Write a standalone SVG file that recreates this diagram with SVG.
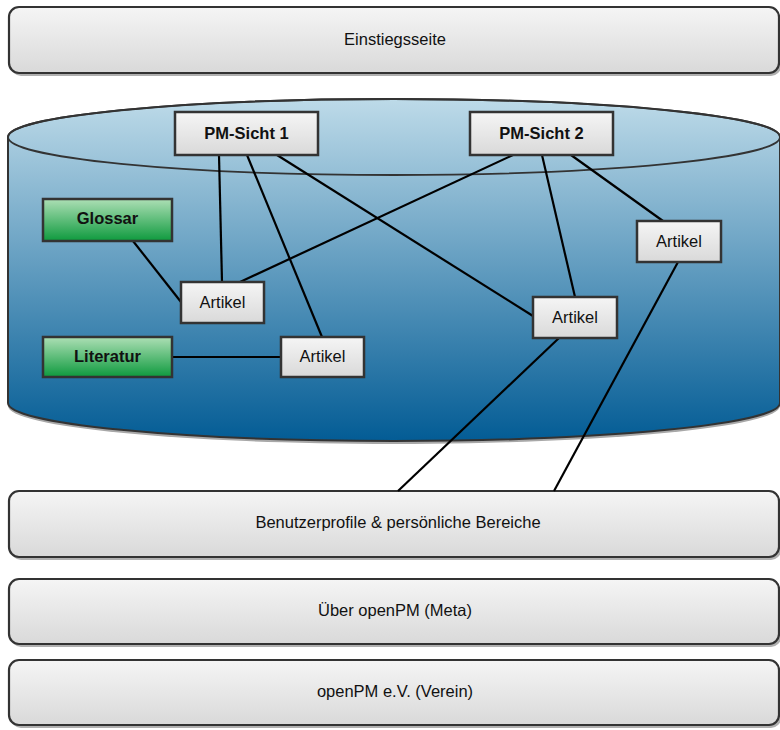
<svg xmlns="http://www.w3.org/2000/svg" width="780" height="730" viewBox="0 0 780 730">
<defs>
<linearGradient id="gGray" x1="0" y1="0" x2="0" y2="1">
<stop offset="0" stop-color="#f5f5f5"/>
<stop offset="1" stop-color="#d9d9d9"/>
</linearGradient>
<linearGradient id="gGreen" x1="0" y1="0" x2="0" y2="1">
<stop offset="0" stop-color="#addfb5"/>
<stop offset="1" stop-color="#0e9a3e"/>
</linearGradient>
<linearGradient id="gBlue" gradientUnits="userSpaceOnUse" x1="0" y1="98" x2="0" y2="441">
<stop offset="0" stop-color="#bedbe9"/>
<stop offset="1" stop-color="#035c95"/>
</linearGradient>
</defs>
<style>
.band{fill:url(#gGray);stroke:#333;stroke-width:2.2}
.shadow{fill:#b0b0b0}
.node{fill:url(#gGray);stroke:#333;stroke-width:2.5}
.green{fill:url(#gGreen);stroke:#333;stroke-width:2.5}
.lbl{font-family:"Liberation Sans",Arial,sans-serif;font-size:16.5px;fill:#111;text-anchor:middle}
.b{font-weight:bold}
.con line{stroke:#000;stroke-width:2.2}
</style>

<g id="einstiegsseite">
<rect class="shadow" x="11" y="10" width="770" height="66" rx="10"/>
<rect class="band" x="9" y="7" width="770" height="66" rx="10"/>
<text class="lbl" x="395" y="45">Einstiegsseite</text>
</g>

<g id="cylinder">
<path d="M8,140 L8,406 A386,38 0 0 0 780,406 L780,140 Z" fill="#a8a8a8"/>
<path d="M8,137 L8,403 A386,38 0 0 0 780,403 L780,137 A386,38 0 0 0 8,137 Z" fill="url(#gBlue)" stroke="#333" stroke-width="2"/>
<ellipse cx="394" cy="137" rx="386" ry="38" fill="none" stroke="#333" stroke-width="1.8"/>
</g>

<g id="benutzer">
<rect class="shadow" x="11" y="494" width="770" height="66" rx="10"/>
<rect class="band" x="9" y="491" width="770" height="66" rx="10"/>
<text class="lbl" x="398" y="528">Benutzerprofile &amp; persönliche Bereiche</text>
</g>

<g id="meta">
<rect class="shadow" x="11" y="582" width="770" height="65" rx="10"/>
<rect class="band" x="9" y="579" width="770" height="65" rx="10"/>
<text class="lbl" x="395" y="616">Über openPM (Meta)</text>
</g>

<g id="verein">
<rect class="shadow" x="11" y="663" width="770" height="65" rx="10"/>
<rect class="band" x="9" y="660" width="770" height="65" rx="10"/>
<text class="lbl" x="395" y="697">openPM e.V. (Verein)</text>
</g>

<g id="connectors" class="con">
<line x1="219" y1="155" x2="222" y2="282"/>
<line x1="247" y1="155" x2="322" y2="337"/>
<line x1="277" y1="155" x2="533" y2="316"/>
<line x1="513" y1="155" x2="240" y2="282"/>
<line x1="542" y1="155" x2="575" y2="297"/>
<line x1="571" y1="155" x2="663" y2="221"/>
<line x1="133" y1="241" x2="181" y2="302"/>
<line x1="171" y1="357" x2="281" y2="357"/>
<line x1="559" y1="338" x2="398" y2="491"/>
<line x1="678" y1="262" x2="554" y2="491"/>
</g>

<g id="pmsicht1">
<rect class="node" x="175" y="112" width="143" height="43"/>
<text class="lbl b" x="246.5" y="139">PM-Sicht 1</text>
</g>
<g id="pmsicht2">
<rect class="node" x="470" y="112" width="143" height="43"/>
<text class="lbl b" x="541.5" y="139">PM-Sicht 2</text>
</g>
<g id="glossar">
<rect class="green" x="43" y="199" width="129" height="42"/>
<text class="lbl b" x="107.5" y="224">Glossar</text>
</g>
<g id="literatur">
<rect class="green" x="43" y="337" width="129" height="40"/>
<text class="lbl b" x="107.5" y="362">Literatur</text>
</g>
<g id="artikel1">
<rect class="node" x="181" y="282" width="83" height="41"/>
<text class="lbl" x="222.5" y="308">Artikel</text>
</g>
<g id="artikel2">
<rect class="node" x="281" y="337" width="83" height="40"/>
<text class="lbl" x="322.5" y="362">Artikel</text>
</g>
<g id="artikel3">
<rect class="node" x="533" y="297" width="84" height="41"/>
<text class="lbl" x="575" y="323">Artikel</text>
</g>
<g id="artikel4">
<rect class="node" x="637" y="221" width="84" height="41"/>
<text class="lbl" x="679" y="247">Artikel</text>
</g>
</svg>
